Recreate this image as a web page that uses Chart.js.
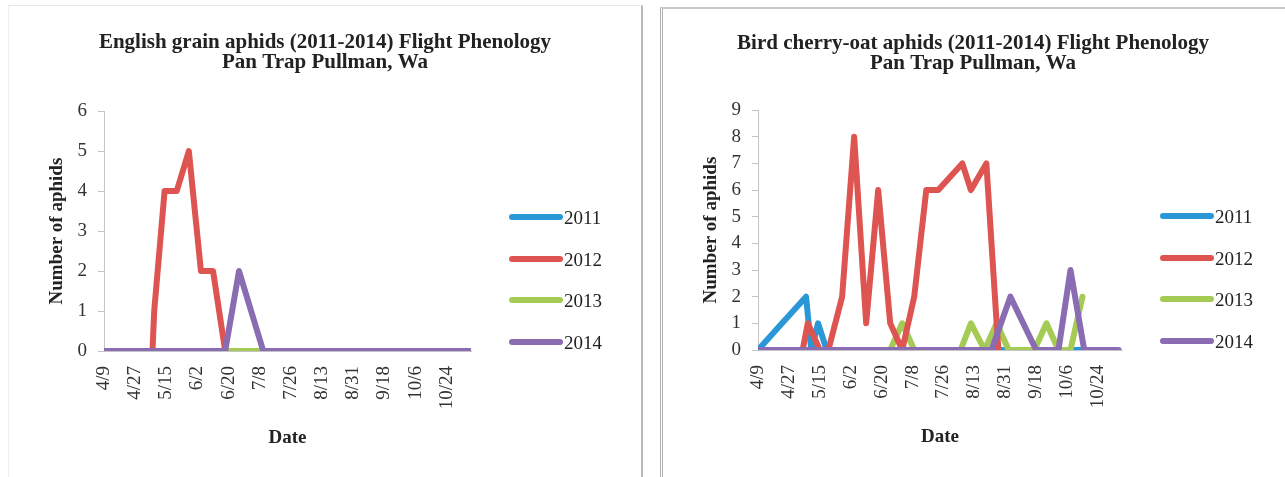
<!DOCTYPE html>
<html>
<head>
<meta charset="utf-8">
<script src="https://cdn.jsdelivr.net/npm/chart.js@4/dist/chart.umd.min.js"></script>
<style>
  body { margin: 0; background: #fff; width: 1285px; height: 477px; position: relative; overflow: hidden; font-family: "Liberation Serif", serif; }
  .panel { position: absolute; }
  #leftPanel { left: 8px; top: 5px; width: 632px; height: 472px; border-top: 1px solid #eee4e4; border-left: 1px solid #f0f0f0; border-right: 2px solid #b8b8b8; }
  #rightPanel { left: 660px; top: 7px; width: 625px; height: 470px; border-top: 2px solid #c8c8c8; border-left: 3px double #b0b0b0; }
  .panel canvas { position: absolute; left: 0; top: 0; }
  .legend { position: absolute; }
  .leg-item { position: absolute; left: 0; height: 20px; white-space: nowrap; }
  .leg-bar { position: absolute; left: 0; top: 7px; width: 54px; height: 6px; border-radius: 3px; }
  .leg-text { position: absolute; left: 55px; top: -1px; font-size: 19px; line-height: 24px; color: #222; }
</style>
</head>
<body>
<div class="panel" id="leftPanel"><canvas id="grainChart" width="632" height="470"></canvas></div>
<div class="panel" id="rightPanel"><canvas id="cherryChart" width="620" height="468"></canvas></div>
<div class="legend" id="grainLegend" style="left:509px; top:207px;"></div>
<div class="legend" id="cherryLegend" style="left:1160px; top:206px;"></div>
<script>
// sample dates are M/D, plotted as days after 4/9
const years = ["2011", "2012", "2013", "2014"];
const colors = ["#2a97d6", "#dd5450", "#a5cb55", "#8a6cb3"];
const dateTicks = ["4/9", "4/27", "5/15", "6/2", "6/20", "7/8", "7/26", "8/13", "8/31", "9/18", "10/6", "10/24"];

// English grain aphids
const grain2011Dates = ["4/9", "4/23", "5/7", "5/21", "6/4", "6/18", "7/2", "7/16", "7/30", "8/13", "8/27", "9/10", "9/24", "10/8", "10/22", "11/5"];
const grain2011Vals  = [0, 0, 0, 0, 0, 0, 0, 0, 0, 0, 0, 0, 0, 0, 0, 0];
const grain2012Dates = ["4/9", "4/23", "5/7", "5/8", "5/14", "5/21", "5/28", "6/4", "6/11", "6/18"];
const grain2012Vals  = [0, 0, 0, 1, 4, 4, 5, 2, 2, 0];
const grain2013Dates = ["5/7", "5/14", "5/21", "5/28", "6/4", "6/11", "6/18", "6/25", "7/2", "7/9", "7/16", "7/30", "8/13", "8/27", "9/10", "9/24", "10/8", "10/22", "11/5"];
const grain2013Vals  = [0, 0, 0, 0, 0, 0, 0, 0, 0, 0, 0, 0, 0, 0, 0, 0, 0, 0, 0];
const grain2014Dates = ["4/9", "4/23", "5/7", "5/14", "5/21", "5/28", "6/4", "6/11", "6/18", "6/26", "7/10", "7/24", "8/7", "8/21", "9/4", "9/18", "10/2", "10/16", "10/30", "11/6"];
const grain2014Vals  = [0, 0, 0, 0, 0, 0, 0, 0, 0, 2, 0, 0, 0, 0, 0, 0, 0, 0, 0, 0];

// Bird cherry-oat aphids
const cherry2011Dates = ["4/9", "4/23", "5/7", "5/10", "5/14", "5/19", "6/2", "6/16", "6/30", "7/14", "7/28", "8/11", "8/25", "9/8", "9/22", "10/6", "10/20", "11/3"];
const cherry2011Vals  = [0, 1, 2, 0, 1, 0, 0, 0, 0, 0, 0, 0, 0, 0, 0, 0, 0, 0];
const cherry2012Dates = ["4/9", "4/23", "5/5", "5/8", "5/15", "5/20", "5/28", "6/4", "6/11", "6/18", "6/25", "7/2", "7/9", "7/16", "7/23", "8/6", "8/11", "8/20", "8/27"];
const cherry2012Vals  = [0, 0, 0, 1, 0, 0, 2, 8, 1, 6, 1, 0, 2, 6, 6, 7, 6, 7, 0];
const cherry2013Dates = ["5/21", "6/4", "6/11", "6/18", "6/25", "7/2", "7/9", "7/16", "7/23", "7/30", "8/5", "8/11", "8/19", "8/26", "9/2", "9/17", "9/24", "10/1", "10/8", "10/15"];
const cherry2013Vals  = [0, 0, 0, 0, 0, 1, 0, 0, 0, 0, 0, 1, 0, 1, 0, 0, 1, 0, 0, 2];
const cherry2014Dates = ["4/9", "4/23", "5/7", "5/21", "6/4", "6/18", "7/2", "7/16", "7/30", "8/13", "8/23", "9/3", "9/18", "10/1", "10/8", "10/16", "10/23", "11/5"];
const cherry2014Vals  = [0, 0, 0, 0, 0, 0, 0, 0, 0, 0, 0, 2, 0, 0, 3, 0, 0, 0];

const axisDays = 212;
const serif = "'Liberation Serif', serif";

function dayOf(md) {
  const [m, d] = md.split("/").map(Number);
  const t = new Date(2014, m - 1, d) - new Date(2014, 3, 9);
  return Math.round(t / 86400000);
}

function labelOf(day) {
  const dt = new Date(2014, 3, 9 + day);
  return (dt.getMonth() + 1) + "/" + dt.getDate();
}

function points(dates, vals) {
  return dates.map((d, i) => ({ x: dayOf(d), y: vals[i] }));
}

function makeDataset(i, dates, vals) {
  return {
    label: years[i],
    data: points(dates, vals),
    borderColor: colors[i],
    backgroundColor: colors[i],
    borderWidth: 6,
    borderCapStyle: "round",
    borderJoinStyle: "round",
    pointRadius: 0,
    tension: 0,
    order: [4, 2, 3, 1][i]
  };
}

function buildLegend(el) {
  el.innerHTML = "";
  years.forEach((y, i) => {
    const item = document.createElement("div");
    item.className = "leg-item";
    item.style.top = (i * 41.5) + "px";
    item.innerHTML = `<div class="leg-bar" style="background:${colors[i]}"></div><div class="leg-text">${y}</div>`;
    el.appendChild(item);
  });
}

function buildChart(id, title, sets, yMax, geo) {
  new Chart(document.getElementById(id), {
    type: "line",
    data: { datasets: sets },
    options: {
      responsive: false,
      animation: false,
      layout: { padding: 0 },
      plugins: {
        legend: { display: false },
        tooltip: { enabled: false },
        title: {
          display: true,
          text: title,
          color: "#222",
          font: { family: serif, size: 21, weight: "bold", lineHeight: 0.98 },
          padding: { top: geo.titleTop, bottom: geo.titleBottom }
        }
      },
      scales: {
        x: {
          type: "linear",
          min: 0,
          max: axisDays,
          border: { color: "#c4c4c4", width: 1 },
          grid: { drawOnChartArea: false, drawTicks: false },
          ticks: {
            stepSize: 18,
            includeBounds: false,
            autoSkip: false,
            minRotation: 90,
            maxRotation: 90,
            padding: 15,
            color: "#333",
            font: { family: serif, size: 19 },
            callback: (v) => labelOf(v)
          },
          title: {
            display: true,
            text: "Date",
            color: "#222",
            font: { family: serif, size: 19, weight: "bold" },
            padding: { top: 0, bottom: geo.dateBottom }
          },
          afterFit: (s) => { s.height = geo.xHeight; }
        },
        y: {
          min: 0,
          max: yMax,
          border: { color: "#c4c4c4", width: 1 },
          grid: { drawOnChartArea: false, drawTicks: true, tickLength: 6, color: "#c4c4c4" },
          ticks: { stepSize: 1, padding: 11, color: "#333", font: { family: serif, size: 19 } },
          title: {
            display: true,
            text: "Number of aphids",
            color: "#222",
            font: { family: serif, size: 19, weight: "bold" },
            padding: { top: geo.yTitleLeft, bottom: 0 }
          },
          afterFit: (s) => { s.width = 95; }
        },
        // empty room on the right for the legend
        legendRoom: {
          type: "linear",
          position: "right",
          display: true,
          border: { display: false },
          grid: { display: false },
          ticks: { display: false },
          afterFit: (s) => { s.width = geo.padRight; }
        }
      }
    }
  });
}

buildChart("grainChart",
  ["English grain aphids (2011-2014) Flight Phenology", "Pan Trap Pullman, Wa"],
  [
    makeDataset(0, grain2011Dates, grain2011Vals),
    makeDataset(1, grain2012Dates, grain2012Vals),
    makeDataset(2, grain2013Dates, grain2013Vals),
    makeDataset(3, grain2014Dates, grain2014Vals)
  ],
  6,
  { padRight: 170, titleTop: 26, titleBottom: 38, xHeight: 125, dateBottom: 27, yTitleLeft: 37 }
);

buildChart("cherryChart",
  ["Bird cherry-oat aphids (2011-2014) Flight Phenology", "Pan Trap Pullman, Wa"],
  [
    makeDataset(0, cherry2011Dates, cherry2011Vals),
    makeDataset(1, cherry2012Dates, cherry2012Vals),
    makeDataset(2, cherry2013Dates, cherry2013Vals),
    makeDataset(3, cherry2014Dates, cherry2014Vals)
  ],
  9,
  { padRight: 161, titleTop: 24, titleBottom: 36, xHeight: 127, dateBottom: 29, yTitleLeft: 37 }
);

buildLegend(document.getElementById("grainLegend"));
buildLegend(document.getElementById("cherryLegend"));
</script>
</body>
</html>
